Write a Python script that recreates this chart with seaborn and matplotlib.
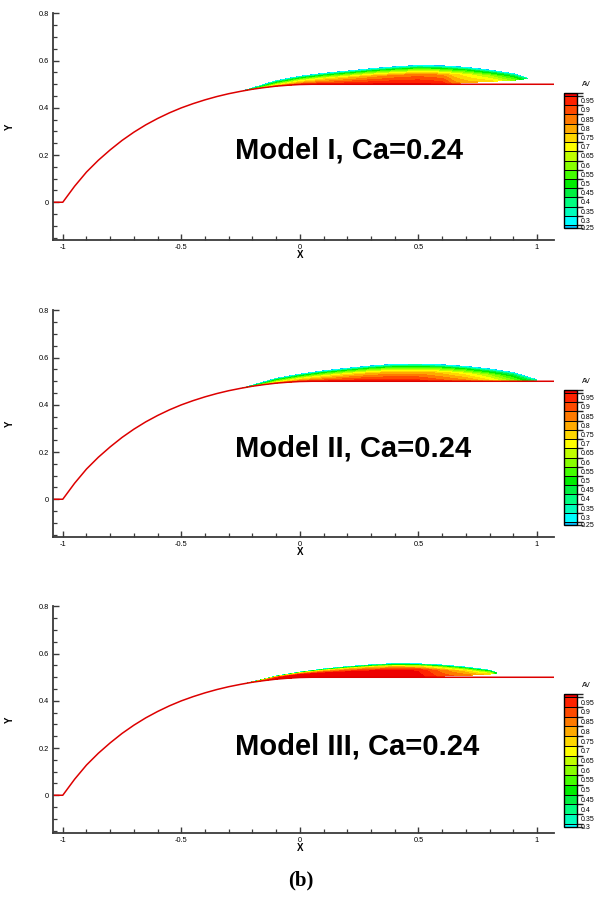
import numpy as np
import matplotlib
matplotlib.use("Agg")
import matplotlib.pyplot as plt
import seaborn as sns
from matplotlib.colors import ListedColormap, BoundaryNorm
from matplotlib.cm import ScalarMappable
from matplotlib.ticker import FixedLocator

# ---------------- data ----------------
# wall (red line)
wall_x = [-1.045, -1.0, -0.95, -0.9, -0.85, -0.8, -0.75, -0.7, -0.65, -0.6, -0.55,
          -0.5, -0.45, -0.4, -0.35, -0.3, -0.25, -0.2, -0.15, -0.1, -0.05, 0.0, 0.05, 1.08]
wall_y = [0.0, 0.0, 0.068, 0.128, 0.178, 0.222, 0.262, 0.297, 0.328, 0.355, 0.379,
          0.4, 0.418, 0.434, 0.448, 0.46, 0.47, 0.479, 0.486, 0.492, 0.496, 0.499, 0.5, 0.5]

# film stations: x, top edge, bottom edge, AV at wall / mid height / 80% height
p1_x   = [-0.24, -0.1, 0.0, 0.1, 0.2, 0.3, 0.4, 0.5, 0.6, 0.65, 0.7, 0.8, 0.9, 0.96]
p1_top = [0.472, 0.515, 0.534, 0.546, 0.556, 0.566, 0.574, 0.58, 0.578, 0.575, 0.572, 0.56, 0.545, 0.526]
p1_bot = [0.472, 0.492, 0.499, 0.5, 0.5, 0.5, 0.5, 0.5, 0.5, 0.503, 0.507, 0.512, 0.517, 0.524]
p1_e0  = [0.5, 0.8, 0.9, 0.95, 0.97, 0.98, 0.99, 0.99, 0.97, 0.85, 0.8, 0.75, 0.6, 0.4]
p1_e5  = [0.35, 0.55, 0.65, 0.72, 0.76, 0.8, 0.83, 0.85, 0.82, 0.75, 0.7, 0.62, 0.5, 0.35]
p1_e8  = [0.3, 0.4, 0.45, 0.5, 0.52, 0.54, 0.55, 0.56, 0.55, 0.52, 0.5, 0.45, 0.4, 0.3]

p2_x   = [-0.24, -0.1, 0.0, 0.1, 0.2, 0.3, 0.4, 0.5, 0.6, 0.7, 0.8, 0.9, 1.0]
p2_top = [0.472, 0.512, 0.53, 0.544, 0.555, 0.565, 0.572, 0.573, 0.57, 0.563, 0.552, 0.537, 0.506]
p2_bot = [0.472, 0.492, 0.499, 0.5, 0.5, 0.5, 0.5, 0.5, 0.5, 0.5, 0.5, 0.501, 0.504]
p2_e0  = [0.5, 0.78, 0.88, 0.93, 0.96, 0.97, 0.97, 0.95, 0.9, 0.85, 0.75, 0.6, 0.4]
p2_e5  = [0.35, 0.55, 0.63, 0.7, 0.75, 0.78, 0.8, 0.8, 0.76, 0.7, 0.62, 0.5, 0.35]
p2_e8  = [0.3, 0.4, 0.45, 0.5, 0.52, 0.54, 0.55, 0.55, 0.53, 0.5, 0.45, 0.4, 0.3]

p3_x   = [-0.22, -0.1, 0.0, 0.1, 0.2, 0.3, 0.4, 0.5, 0.6, 0.7, 0.8, 0.83]
p3_top = [0.476, 0.505, 0.522, 0.535, 0.545, 0.553, 0.558, 0.557, 0.552, 0.543, 0.53, 0.52]
p3_bot = [0.476, 0.492, 0.499, 0.5, 0.5, 0.5, 0.5, 0.502, 0.505, 0.508, 0.513, 0.518]
p3_e0  = [0.7, 0.98, 1.0, 1.0, 1.0, 1.0, 1.0, 1.0, 0.9, 0.85, 0.75, 0.45]
p3_e5  = [0.5, 0.97, 0.98, 0.98, 0.98, 0.98, 0.98, 0.97, 0.85, 0.75, 0.6, 0.4]
p3_e8  = [0.35, 0.7, 0.75, 0.75, 0.75, 0.75, 0.75, 0.72, 0.62, 0.55, 0.45, 0.32]

titles = ["Model I, Ca=0.24", "Model II, Ca=0.24", "Model III, Ca=0.24"]
edge_av = [0.25, 0.25, 0.28]

# legend levels
av_values = [0.25, 0.3, 0.35, 0.4, 0.45, 0.5, 0.55, 0.6, 0.65, 0.7, 0.75, 0.8, 0.85, 0.9, 0.95, 1.0]
av_colors = ["#00c0ff", "#00ffff", "#00ffbb", "#00ff80", "#00f040", "#00ee00", "#44ff00", "#88ff00",
             "#c0ff00", "#ffff00", "#ffd800", "#ffaa00", "#ff7a00", "#ff4a00", "#ff2200", "#ee0000"]
legend_labels_12 = ["0.25", "0.3", "0.35", "0.4", "0.45", "0.5", "0.55", "0.6", "0.65", "0.7",
                    "0.75", "0.8", "0.85", "0.9", "0.95"]
legend_labels_3 = ["0.3", "0.35", "0.4", "0.45", "0.5", "0.55", "0.6", "0.65", "0.7",
                   "0.75", "0.8", "0.85", "0.9", "0.95"]

x_ticks = [-1, -0.5, 0, 0.5, 1]
x_tick_labels = ["-1", "-0.5", "0", "0.5", "1"]
y_ticks = [0, 0.2, 0.4, 0.6, 0.8]
y_tick_labels = ["0", "0.2", "0.4", "0.6", "0.8"]

# ---------------- style ----------------
sns.set_theme(style="ticks")
plt.rcParams["font.family"] = ["Liberation Sans", "DejaVu Sans"]
plt.rcParams["text.color"] = "black"
plt.rcParams["axes.labelcolor"] = "black"
plt.rcParams["xtick.labelcolor"] = "black"
plt.rcParams["ytick.labelcolor"] = "black"

fig = plt.figure(figsize=(5.99, 8.99), dpi=100)

W, H = 599.0, 899.0
ax_left = 53.3 / W
ax_w = (554 - 53.3) / W
ax_h = 227 / H
ax_bottoms = [1 - 240 / H, 1 - 537 / H, 1 - 833 / H]
cb_tops = [93, 390, 694]
cb_bots = [228, 525, 827]
text_y = [0.22, 0.215, 0.205]

panels = [
    (p1_x, p1_top, p1_bot, p1_e0, p1_e5, p1_e8),
    (p2_x, p2_top, p2_bot, p2_e0, p2_e5, p2_e8),
    (p3_x, p3_top, p3_bot, p3_e0, p3_e5, p3_e8),
]

axis_col = "#3a3a3a"
line_col = "#dd0000"

for i, (px, ptop, pbot, e0, e5, e8) in enumerate(panels):
    ax = fig.add_axes([ax_left, ax_bottoms[i], ax_w, ax_h])
    # build field
    xs = np.linspace(px[0], px[-1], 500)
    eta = np.linspace(0, 1, 90)
    yb = np.maximum(np.interp(xs, px, pbot), np.interp(xs, wall_x, wall_y))
    yt = np.maximum(np.interp(xs, px, ptop), yb)
    a0 = np.interp(xs, px, e0)
    a5 = np.interp(xs, px, e5)
    a8 = np.interp(xs, px, e8)
    X = np.tile(xs, (len(eta), 1))
    Y = yb[None, :] + eta[:, None] * (yt - yb)[None, :]
    AV = np.empty_like(X)
    for j in range(len(xs)):
        AV[:, j] = np.interp(eta, [0, 0.5, 0.8, 1.0], [a0[j], a5[j], a8[j], edge_av[i]])

    if i < 2:
        vals = av_values
        cols = av_colors
        labels = legend_labels_12
    else:
        vals = av_values[1:]
        cols = av_colors[1:]
        labels = legend_labels_3
    mids = [(a + b) / 2 for a, b in zip(vals[:-1], vals[1:])]
    levels = [vals[0] - 0.05] + mids + [1.05]
    ax.contourf(X, Y, AV, levels=levels, colors=cols, antialiased=False)

    sns.lineplot(x=wall_x, y=wall_y, ax=ax, color=line_col, linewidth=1.1,
                 sort=False, estimator=None, legend=False)

    ax.set_xlim(-1.04, 1.072)
    ax.set_ylim(-0.16, 0.802)
    for s in ["top", "right"]:
        ax.spines[s].set_visible(False)
    for s in ["left", "bottom"]:
        ax.spines[s].set_linewidth(1.3)
        ax.spines[s].set_color(axis_col)
    ax.xaxis.set_major_locator(FixedLocator(x_ticks))
    ax.set_xticklabels(x_tick_labels)
    ax.yaxis.set_major_locator(FixedLocator(y_ticks))
    ax.set_yticklabels(y_tick_labels)
    ax.xaxis.set_minor_locator(FixedLocator(np.round(np.arange(-1.0, 1.01, 0.1), 2)))
    ax.yaxis.set_minor_locator(FixedLocator(np.round(np.arange(-0.15, 0.81, 0.05), 2)))
    ax.tick_params(which="major", direction="in", length=4.5, width=1.0, color=axis_col,
                   labelsize=5.3, pad=3, labelcolor="black")
    ax.tick_params(which="minor", direction="in", length=3, width=0.9, color=axis_col)
    ax.set_xlabel("X", fontsize=7, fontweight="bold", color="black")
    ax.xaxis.set_label_coords(0.493, -0.045)
    ax.set_ylabel("Y", fontsize=7, fontweight="bold", color="black")
    ax.yaxis.set_label_coords(-0.087, 0.5)
    ax.yaxis.label.set_va("center")
    ax.grid(False)
    ax.set_facecolor("white")

    ax.text(-0.275, text_y[i], titles[i], fontsize=21, fontweight="bold", color="black",
            ha="left", va="center", family=["Liberation Sans", "DejaVu Sans"])

    # legend (colorbar)
    cb_h = (cb_bots[i] - cb_tops[i]) / H
    cax = fig.add_axes([564 / W, 1 - cb_bots[i] / H, 13 / W, cb_h])
    step = 0.05
    bounds = [mids[0] - step / 3] + mids + [mids[-1] + step / 3]
    cmap = ListedColormap(cols)
    norm = BoundaryNorm(bounds, cmap.N)
    tick_pos = [bounds[0] + 0.004] + [v for v in vals[1:-1]]
    cb = fig.colorbar(ScalarMappable(norm=norm, cmap=cmap), cax=cax, boundaries=bounds,
                      spacing="proportional", drawedges=True, ticks=tick_pos)
    cb.set_ticklabels(labels)
    cax.tick_params(length=0, labelsize=5, pad=2.5, labelcolor="black")
    cb.outline.set_linewidth(1.0)
    cb.outline.set_edgecolor("black")
    cb.dividers.set_linewidth(0.7)
    cb.dividers.set_color("black")
    fig.text(586 / W, 1 - (cb_tops[i] - 5) / H, "AV", fontsize=5, ha="center", va="bottom",
             color="black")

fig.text(301 / W, 1 - 880 / H, "(b)", fontsize=15, fontweight="bold", ha="center", va="center",
         color="black", family=["Liberation Serif", "DejaVu Serif"])

fig.savefig("out.png", dpi=100)
